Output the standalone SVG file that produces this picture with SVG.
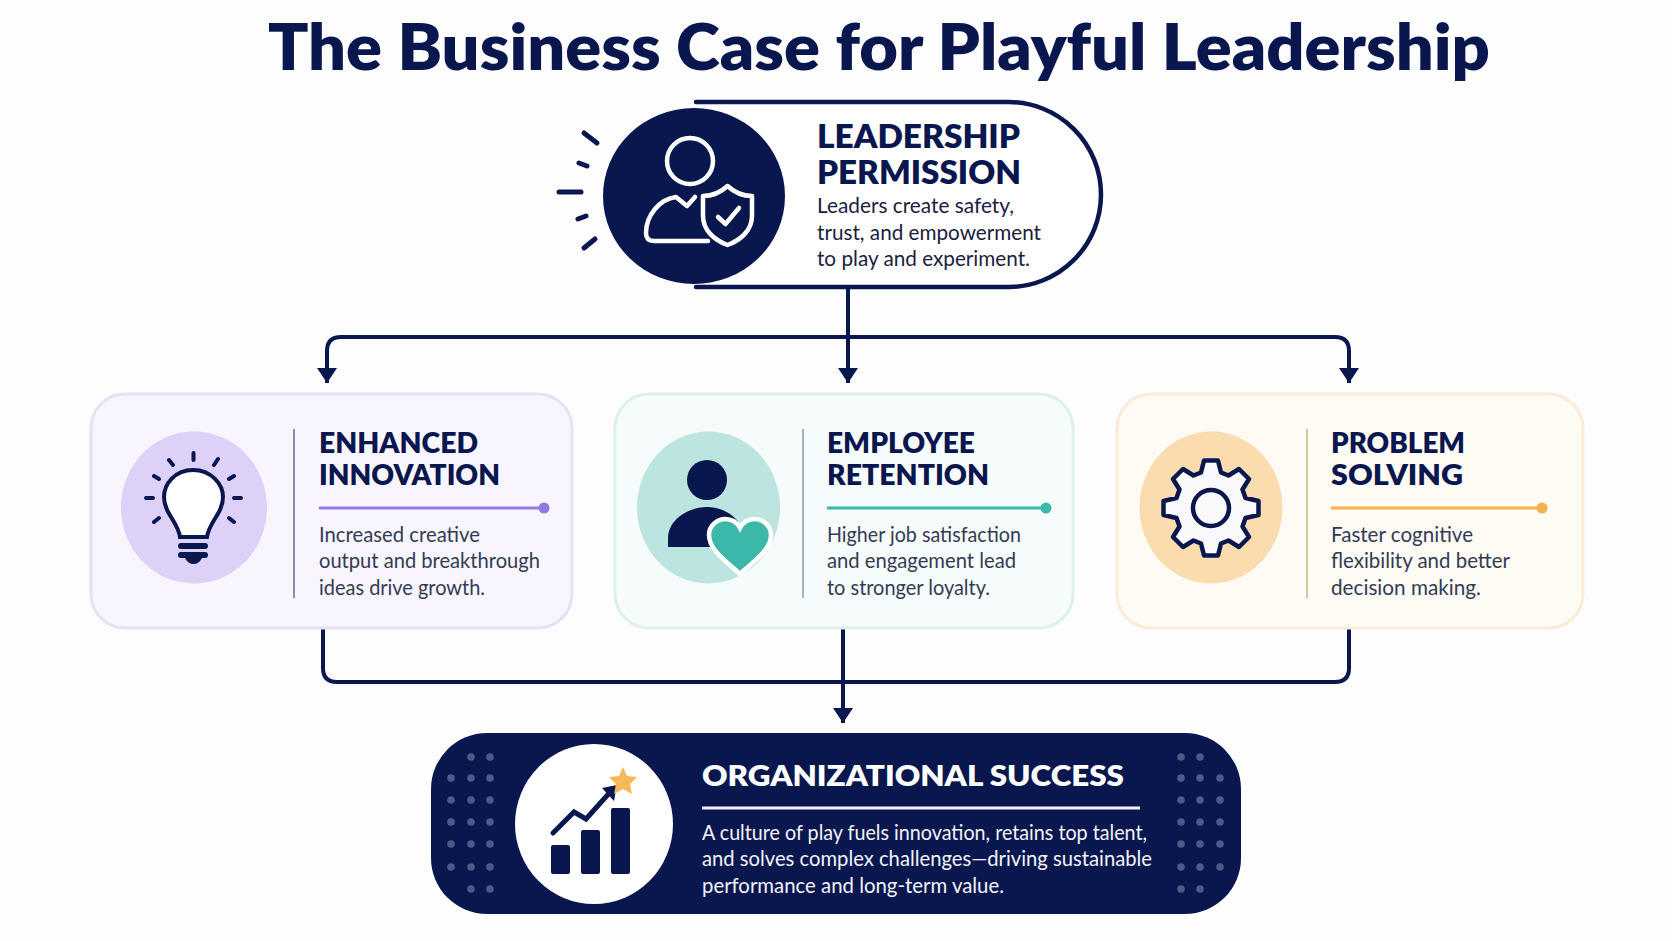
<svg xmlns="http://www.w3.org/2000/svg" width="1672" height="941" viewBox="0 0 1672 941">
<style>
.title{font:800 65px Lato,"Liberation Sans",sans-serif;fill:#0a174f}
.h{font:800 29px Lato,"Liberation Sans",sans-serif;fill:#0a174f}
.h1{font:800 32px Lato,"Liberation Sans",sans-serif;fill:#0a174f}
.b{font:400 21px Lato,"Liberation Sans",sans-serif;fill:#333b55}
.b1{font:400 21px Lato,"Liberation Sans",sans-serif;fill:#1a2140}
.hw{font:800 29px Lato,"Liberation Sans",sans-serif;fill:#fff}
.bw{font:400 21px Lato,"Liberation Sans",sans-serif;fill:#f2f3f8}
.conn{fill:none;stroke:#0a174f;stroke-width:4}
.wire{fill:none;stroke:#0a174f;stroke-width:5;stroke-linecap:round;stroke-linejoin:round}
.wl{fill:none;stroke:#fff;stroke-width:4.5;stroke-linecap:round;stroke-linejoin:round}
.dots circle{fill:#4d5a85;r:3.8px}
</style>
<defs>
<marker id="arr" markerUnits="userSpaceOnUse" markerWidth="15" markerHeight="20" refX="15" refY="10" orient="auto"><path d="M0 0L15 10L0 20Z" fill="#0a174f"/></marker>
</defs>
<rect width="1672" height="941" fill="#fdfdfe"/>
<text class="title" x="268" y="70" textLength="1222" lengthAdjust="spacingAndGlyphs">The Business Case for Playful Leadership</text>

<g id="connectors">
<path class="conn" d="M848 287V383" marker-end="url(#arr)"/>
<path class="conn" d="M848 337H341Q327 337 327 351V383" marker-end="url(#arr)"/>
<path class="conn" d="M848 337H1335Q1349 337 1349 351V383" marker-end="url(#arr)"/>
<path class="conn" d="M323 629V668Q323 682 337 682H1335Q1349 682 1349 668V629"/>
<path class="conn" d="M843 629V723" marker-end="url(#arr)"/>
</g>

<g id="node-leadership">
<path d="M700 102H1008.500A92.500 92.500 0 0 1 1008.500 287H700Z" fill="#fff"/>
<path d="M696 102H1008.500A92.500 92.500 0 0 1 1008.500 287H696" fill="none" stroke="#0a174f" stroke-width="4.500" stroke-linecap="round"/>
<ellipse cx="694" cy="196" rx="91" ry="88" fill="#0a174f"/>
<g class="wire">
<path d="M584 133L597 143M579 163L587 166M559 192H581M578 219L586 216M584 248L595 239"/>
</g>
<g class="wl">
<circle cx="690" cy="161" r="23"/>
<path d="M708 241H654Q646 241 646 233C646 215 660 199 676 197L687 206L695 197"/>
<path d="M727.500 186C720 193 711 196 703 196V216C703 230 714 240 727.500 245C741 240 752 230 752 216V196C744 196 735 193 727.500 186Z" fill="#0a174f"/>
<path d="M718 217L725.500 224L739 208"/>
</g>
<text class="h1" x="817" y="147.500" textLength="203" lengthAdjust="spacingAndGlyphs">LEADERSHIP</text>
<text class="h1" x="817" y="183.500" textLength="204" lengthAdjust="spacingAndGlyphs">PERMISSION</text>
<text class="b1" x="817" y="213" textLength="197" lengthAdjust="spacingAndGlyphs">Leaders create safety,</text>
<text class="b1" x="817" y="240" textLength="224" lengthAdjust="spacingAndGlyphs">trust, and empowerment</text>
<text class="b1" x="817" y="266" textLength="213" lengthAdjust="spacingAndGlyphs">to play and experiment.</text>
</g>

<g id="node-innovation">
<rect x="91" y="394" width="481" height="234" rx="34" fill="#f8f5fe" stroke="#e6e0f9" stroke-width="3"/>
<ellipse cx="194" cy="507.500" rx="73" ry="76" fill="#ddd1f8"/>
<path d="M193 470C175 470 164 484 164 497C164 513 178 522 180 537H207C209 522 223 513 223 497C223 484 211 470 193 470Z" fill="#fff" stroke="#0a174f" stroke-width="4"/>
<rect x="178" y="543" width="30" height="6" rx="3" fill="#0a174f"/>
<rect x="178" y="552" width="30" height="6" rx="3" fill="#0a174f"/>
<path d="M185 558H202Q199 564 193.500 564Q188 564 185 558Z" fill="#0a174f"/>
<path class="wire" style="stroke-width:4" d="M193.500 453V460M169 460L173 465M218 459L214 465M154 476L159 479M234 476L229 479M146 498H153M234 498H241M154 522L159 518M234 522L229 518"/>
<line x1="294" y1="429" x2="294" y2="598" stroke="#8f8bac" stroke-width="2"/>
<text class="h" x="319" y="453" textLength="159" lengthAdjust="spacingAndGlyphs">ENHANCED</text>
<text class="h" x="319" y="485" textLength="181" lengthAdjust="spacingAndGlyphs">INNOVATION</text>
<line x1="319" y1="508" x2="543" y2="508" stroke="#9478e4" stroke-width="3"/><circle cx="544" cy="508" r="5.500" fill="#9478e4"/>
<text class="b" x="319" y="542" textLength="161" lengthAdjust="spacingAndGlyphs">Increased creative</text>
<text class="b" x="319" y="568" textLength="221" lengthAdjust="spacingAndGlyphs">output and breakthrough</text>
<text class="b" x="319" y="595" textLength="166" lengthAdjust="spacingAndGlyphs">ideas drive growth.</text>
</g>

<g id="node-retention">
<rect x="615" y="394" width="458" height="234" rx="34" fill="#f6fbfb" stroke="#ddf0ee" stroke-width="3"/>
<ellipse cx="708.500" cy="507.500" rx="71.500" ry="76" fill="#bde5df"/>
<circle cx="707" cy="480" r="20" fill="#0a174f"/>
<path d="M668 547V538C668 520 688 507 707 507C726 507 746 520 746 547Z" fill="#0a174f"/>
<path d="M740 574C726 561 709 550 709 535C709 525 718 519 725 519C732 519 737 522 740 528C743 522 748 519 755 519C762 519 771 525 771 535C771 550 754 561 740 574Z" fill="#3cb8a9" stroke="#fff" stroke-width="4.500"/>
<line x1="803" y1="429" x2="803" y2="598" stroke="#a3b3b8" stroke-width="2"/>
<text class="h" x="827" y="453" textLength="148" lengthAdjust="spacingAndGlyphs">EMPLOYEE</text>
<text class="h" x="827" y="485" textLength="162" lengthAdjust="spacingAndGlyphs">RETENTION</text>
<line x1="827" y1="508" x2="1046" y2="508" stroke="#3cb8a9" stroke-width="3"/><circle cx="1046" cy="508" r="5.500" fill="#3cb8a9"/>
<text class="b" x="827" y="542" textLength="194" lengthAdjust="spacingAndGlyphs">Higher job satisfaction</text>
<text class="b" x="827" y="568" textLength="189" lengthAdjust="spacingAndGlyphs">and engagement lead</text>
<text class="b" x="827" y="595" textLength="163" lengthAdjust="spacingAndGlyphs">to stronger loyalty.</text>
</g>

<g id="node-problem">
<rect x="1117" y="394" width="466" height="234" rx="34" fill="#fefaf4" stroke="#fcebd6" stroke-width="3"/>
<ellipse cx="1211" cy="507.500" rx="71.500" ry="76" fill="#fbdcaf"/>
<g id="gear" transform="translate(1211 508)">
<path id="gear-path" d="M-7 -47.500H7L10 -35.500L17.500 -32.500L28 -39L38 -29L31.500 -18.500L34.500 -10L47.500 -7V7L34.500 10L31.500 18.500L38 29L28 39L17.500 32.500L10 35.500L7 47.500H-7L-10 35.500L-17.500 32.500L-28 39L-38 29L-31.500 18.500L-34.500 10L-47.500 7V-7L-34.500 -10L-31.500 -18.500L-38 -29L-28 -39L-17.500 -32.500L-10 -35.500Z" fill="#f9f8fb" stroke="#0a174f" stroke-width="4.500" stroke-linejoin="round"/>
<circle r="18" fill="none" stroke="#0a174f" stroke-width="4.500"/>
</g>
<line x1="1307" y1="429" x2="1307" y2="598" stroke="#d9c49f" stroke-width="2"/>
<text class="h" x="1331" y="453" textLength="134" lengthAdjust="spacingAndGlyphs">PROBLEM</text>
<text class="h" x="1331" y="485" textLength="132" lengthAdjust="spacingAndGlyphs">SOLVING</text>
<line x1="1331" y1="508" x2="1542" y2="508" stroke="#f6b04c" stroke-width="3"/><circle cx="1542" cy="508" r="5.500" fill="#f6b04c"/>
<text class="b" x="1331" y="542" textLength="142" lengthAdjust="spacingAndGlyphs">Faster cognitive</text>
<text class="b" x="1331" y="568" textLength="179" lengthAdjust="spacingAndGlyphs">flexibility and better</text>
<text class="b" x="1331" y="595" textLength="150" lengthAdjust="spacingAndGlyphs">decision making.</text>
</g>

<g id="node-success">
<rect x="431" y="733" width="810" height="181" rx="56" fill="#0a174f"/>
<g class="dots">
<circle cx="471" cy="757"/><circle cx="490" cy="757"/>
<circle cx="451" cy="778"/><circle cx="471" cy="778"/><circle cx="490" cy="778"/>
<circle cx="451" cy="800"/><circle cx="471" cy="800"/><circle cx="490" cy="800"/>
<circle cx="451" cy="822"/><circle cx="471" cy="822"/><circle cx="490" cy="822"/>
<circle cx="451" cy="844"/><circle cx="471" cy="844"/><circle cx="490" cy="844"/>
<circle cx="451" cy="867"/><circle cx="471" cy="867"/><circle cx="490" cy="867"/>
<circle cx="471" cy="889"/><circle cx="490" cy="889"/>
<circle cx="1181" cy="757"/><circle cx="1200" cy="757"/>
<circle cx="1181" cy="778"/><circle cx="1200" cy="778"/><circle cx="1220" cy="778"/>
<circle cx="1181" cy="800"/><circle cx="1200" cy="800"/><circle cx="1220" cy="800"/>
<circle cx="1181" cy="822"/><circle cx="1200" cy="822"/><circle cx="1220" cy="822"/>
<circle cx="1181" cy="844"/><circle cx="1200" cy="844"/><circle cx="1220" cy="844"/>
<circle cx="1181" cy="867"/><circle cx="1200" cy="867"/><circle cx="1220" cy="867"/>
<circle cx="1181" cy="889"/><circle cx="1200" cy="889"/>
</g>
<ellipse cx="594" cy="824" rx="79" ry="80" fill="#fff"/>
<rect x="551" y="845" width="19" height="29" rx="2" fill="#0a174f"/>
<rect x="581" y="830" width="19" height="44" rx="2" fill="#0a174f"/>
<rect x="611" y="808" width="19" height="66" rx="2" fill="#0a174f"/>
<path d="M553 833L574 812L586 819L612 790" fill="none" stroke="#0a174f" stroke-width="5" stroke-linecap="round"/>
<path d="M602 788L617 785L614 801Z" fill="#0a174f"/>
<path d="M623 767L627 776L637 777L630 784L632 794L623 789L614 794L616 784L609 777L619 776Z" fill="#f9b857"/>
<text class="hw" x="702" y="786" textLength="422" lengthAdjust="spacingAndGlyphs">ORGANIZATIONAL SUCCESS</text>
<line x1="702" y1="808" x2="1140" y2="808" stroke="#f2f3f8" stroke-width="3"/>
<text class="bw" x="702" y="840" textLength="445" lengthAdjust="spacingAndGlyphs">A culture of play fuels innovation, retains top talent,</text>
<text class="bw" x="702" y="866" textLength="450" lengthAdjust="spacingAndGlyphs">and solves complex challenges—driving sustainable</text>
<text class="bw" x="702" y="893" textLength="302" lengthAdjust="spacingAndGlyphs">performance and long-term value.</text>
</g>
</svg>
